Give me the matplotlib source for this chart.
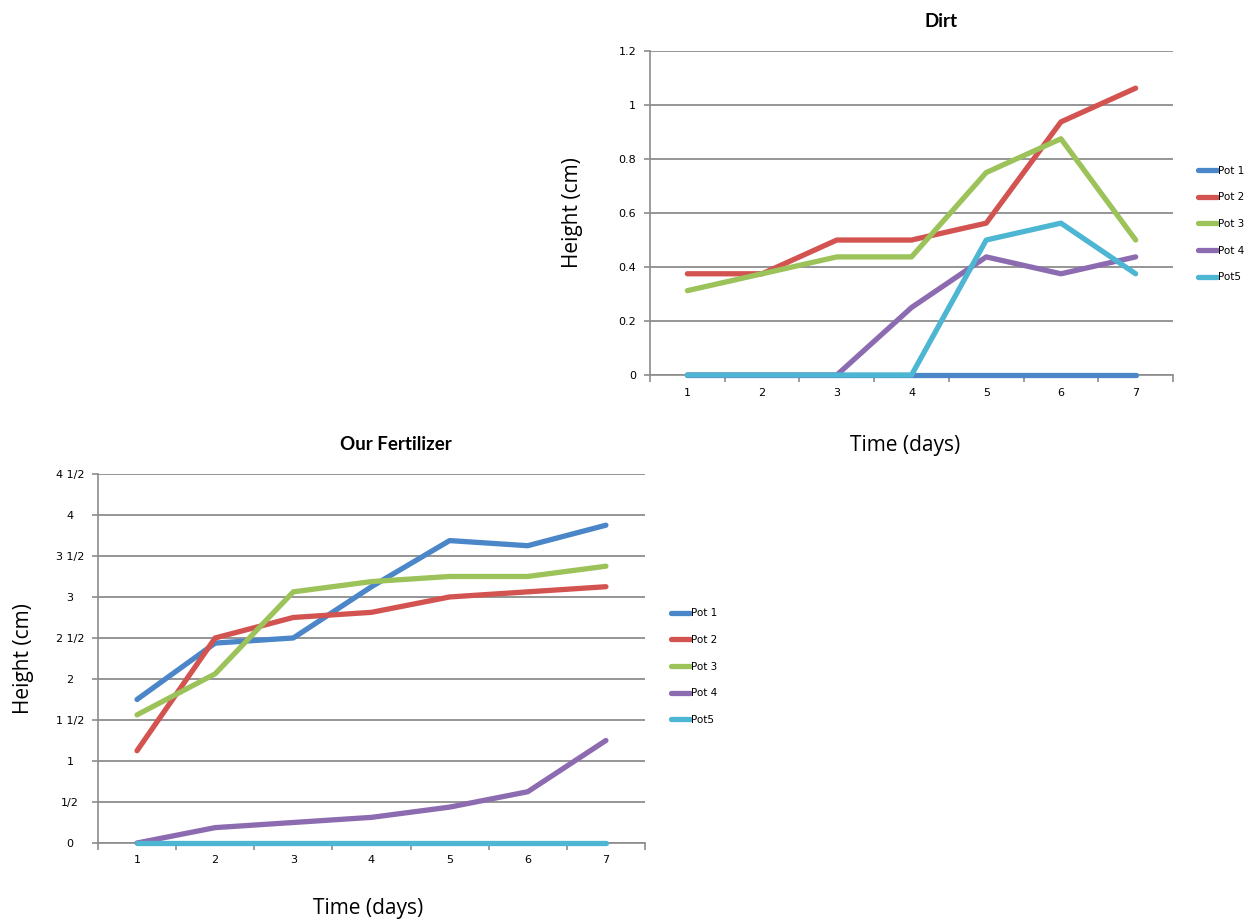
import matplotlib
matplotlib.use("Agg")
import matplotlib.pyplot as plt
from matplotlib.ticker import FixedLocator

days = [1, 2, 3, 4, 5, 6, 7]
pots = ["Pot 1", "Pot 2", "Pot 3", "Pot 4", "Pot5"]
colors = ["#4A86C8", "#D2534F", "#9CC25A", "#8C6BB1", "#4DB6D2"]

dirt = {
    "Pot 1": [0, 0, 0, 0, 0, 0, 0],
    "Pot 2": [0.375, 0.375, 0.5, 0.5, 0.5625, 0.9375, 1.0625],
    "Pot 3": [0.3125, 0.375, 0.4375, 0.4375, 0.75, 0.875, 0.5],
    "Pot 4": [0, 0, 0, 0.25, 0.4375, 0.375, 0.4375],
    "Pot5": [0, 0, 0, 0, 0.5, 0.5625, 0.375],
}
dirt_yticks = [0, 0.2, 0.4, 0.6, 0.8, 1.0, 1.2]
dirt_ylabels = ["0", "0.2", "0.4", "0.6", "0.8", "1", "1.2"]

fert = {
    "Pot 1": [1.75, 2.4375, 2.5, 3.125, 3.6875, 3.625, 3.875],
    "Pot 2": [1.125, 2.5, 2.75, 2.8125, 3.0, 3.0625, 3.125],
    "Pot 3": [1.5625, 2.0625, 3.0625, 3.1875, 3.25, 3.25, 3.375],
    "Pot 4": [0, 0.1875, 0.25, 0.3125, 0.4375, 0.625, 1.25],
    "Pot5": [0, 0, 0, 0, 0, 0, 0],
}
fert_yticks = [0, 0.5, 1, 1.5, 2, 2.5, 3, 3.5, 4, 4.5]
fert_ylabels = ["0", "1/2", "1", "1 1/2", "2", "2 1/2", "3", "3 1/2", "4", "4 1/2"]

TICKFONT = ["Liberation Sans Narrow", "DejaVu Sans"]
LABELFONT = ["Open Sans", "DejaVu Sans"]
TITLEFONT = ["Lato", "DejaVu Sans"]
GRID = "#8C8C8C"


def style(ax, data, yticks, ylabels, title, ycenter, title_x, xlab_pos, ylab_x, leg_pos):
    for name, c in zip(pots, colors):
        ax.plot(days, data[name], color=c, lw=3.8, label=name,
                solid_capstyle="round", clip_on=False, zorder=3)
    ax.set_xlim(0.5, 7.5)
    ax.set_ylim(yticks[0], yticks[-1])
    ax.set_yticks(yticks)
    ax.set_yticklabels(ylabels, family=TICKFONT, fontsize=8)
    ax.set_xticks(days)
    ax.set_xticklabels([str(d) for d in days], family=TICKFONT, fontsize=8)
    ax.xaxis.set_minor_locator(FixedLocator([d - 0.5 for d in days] + [7.5]))
    ax.tick_params(axis="x", which="major", length=0, pad=9)
    ax.tick_params(axis="x", which="minor", length=5, color=GRID, width=1.2, direction="out")
    ax.tick_params(axis="y", length=4, color=GRID, width=1.2, direction="out")
    if ycenter:
        ax.tick_params(axis="y", pad=16)
        for t in ax.get_yticklabels():
            t.set_horizontalalignment("center")
    else:
        ax.tick_params(axis="y", pad=6)
    ax.grid(axis="y", color=GRID, lw=1.3)
    ax.set_axisbelow(True)
    for s in ["top", "right"]:
        ax.spines[s].set_visible(False)
    for s in ["left", "bottom"]:
        ax.spines[s].set_color(GRID)
        ax.spines[s].set_linewidth(1.2)
    ax.set_title(title, family=TITLEFONT, fontweight="bold", fontsize=13.5, pad=17, x=title_x)
    ax.set_xlabel("Time (days)", family=LABELFONT, fontsize=15)
    ax.xaxis.set_label_coords(*xlab_pos)
    ax.set_ylabel("Height (cm)", family=LABELFONT, fontsize=15)
    ax.yaxis.set_label_coords(ylab_x, 0.5)
    leg = ax.legend(loc="center left", bbox_to_anchor=leg_pos, frameon=False,
                    prop={"family": TICKFONT, "size": 7.5}, handlelength=1.8,
                    handletextpad=0.1, labelspacing=1.6)
    for h in leg.get_lines():
        h.set_linewidth(3.8)
        h.set_solid_capstyle("round")


fig = plt.figure(figsize=(12.59, 9.21), dpi=100)
ax1 = fig.add_axes([0.5163, 0.5928, 0.4154, 0.3518])
style(ax1, dirt, dirt_yticks, dirt_ylabels, "Dirt", False,
      0.556, (0.488, -0.184), -0.128, (1.03, 0.466))
ax2 = fig.add_axes([0.0778, 0.0847, 0.4345, 0.4007])
style(ax2, fert, fert_yticks, fert_ylabels, "Our Fertilizer", True,
      0.545, (0.494, -0.15), -0.117, (1.03, 0.478))

fig.savefig("out.png", dpi=100, facecolor="white")
